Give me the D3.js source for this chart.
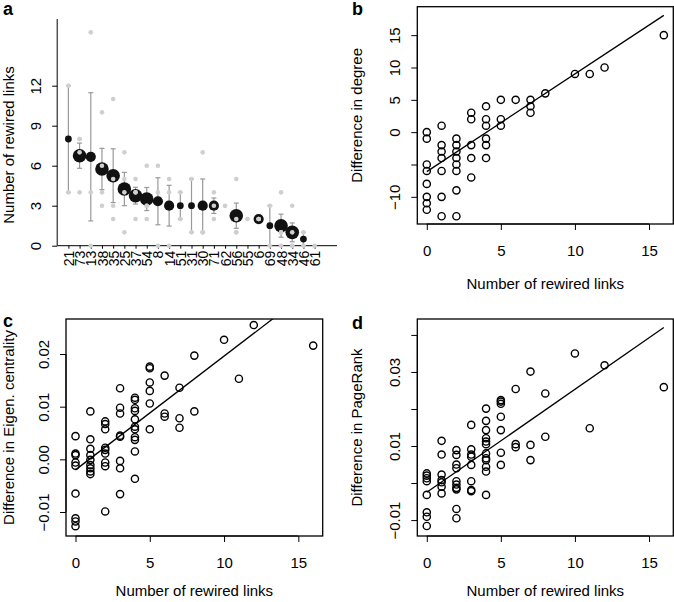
<!DOCTYPE html>
<html>
<head>
<meta charset="utf-8">
<script src="https://cdn.jsdelivr.net/npm/d3@7"></script>
<style>
  body { margin: 0; background: #fff; }
  svg { display: block; font-family: 'Liberation Sans', Arial, Helvetica, sans-serif; }
  .axis path, .axis line { stroke: #000; }
  .axis text { fill: #000; }
</style>
</head>
<body>
<svg id="chart" width="674" height="602"></svg>
<script>
// PANEL A DATA: nodes and the rewired-link counts observed for each
const categories = ['21', '73', '13', '38', '35', '25', '37', '54', '8', '14', '51', '31',
  '30', '71', '62', '56', '55', '6', '69', '48', '34', '46', '61']
const rewiredValues = [
  [12, 4], [8, 8, 7, 4], [16, 4, 0], [10, 6, 4, 3], [11, 5, 3, 2], [7, 5, 4, 1],
  [5, 4, 4, 2], [6, 3, 3, 2], [6, 4, 0], [5, 4, 0], [4, 2], [5, 1], [7, 1, 1],
  [4, 3, 2], [3], [5, 2, 1, 1], [2], [2, 2, 2], [3, 0], [4, 1, 1, 0], [3, 1, 0, 0],
  [1, 0], [0]
]
const rewiredTicks = [0, 3, 6, 9, 12]

// PANELS B-D DATA: [rewired links, difference]
const degreePoints = [
  [0, 0], [0, -1], [0, -5], [0, -6], [0, -8], [0, -10], [0, -11], [0, -12],
  [1, 1], [1, -2], [1, -3], [1, -4], [1, -6], [1, -10], [1, -13],
  [2, -1], [2, -2], [2, -3], [2, -4], [2, -5], [2, -6], [2, -9], [2, -13],
  [3, 3], [3, 2], [3, -2], [3, -4], [3, -7],
  [4, 4], [4, 2], [4, 1], [4, -1], [4, -2], [4, -4],
  [5, 5], [5, 2], [5, 1], [6, 5], [7, 5], [7, 4], [7, 3], [8, 6],
  [10, 9], [11, 9], [12, 10], [16, 15]
]
const degreeFit = [-6.1, 1.51]
const degreeTicks = [-10, -5, 0, 5, 10, 15]
const degreeTickLabels = ['\u221210', '', '0', '5', '10', '15']

const eigenPoints = [
  [0, 0.0044], [0, 0.0011], [0, 0.0008], [0, -0.0006], [0, -0.0012], [0, -0.0065], [0, -0.0112], [0, -0.0118], [0, -0.0127],
  [1, 0.0091], [1, 0.0038], [1, 0.0020], [1, 0.0008], [1, -0.0001], [1, -0.0011], [1, -0.0017], [1, -0.0023], [1, -0.0028],
  [2, 0.0072], [2, 0.0067], [2, 0.0057], [2, 0.0022], [2, 0.0018], [2, 0.0011], [2, -0.0006], [2, -0.0013], [2, -0.0099],
  [3, 0.0135], [3, 0.0098], [3, 0.0087], [3, 0.0045], [3, 0.0043], [3, -0.0003], [3, -0.0017], [3, -0.0066],
  [4, 0.0117], [4, 0.0113], [4, 0.0097], [4, 0.0092], [4, 0.0076], [4, 0.0062], [4, 0.0057], [4, 0.0042], [4, 0.0037], [4, 0.0015], [4, -0.0037],
  [5, 0.0176], [5, 0.0173], [5, 0.0146], [5, 0.0130], [5, 0.0106], [5, 0.0057],
  [6, 0.0159], [6, 0.0087], [6, 0.0081], [7, 0.0136], [7, 0.0078], [7, 0.0060],
  [8, 0.0197], [8, 0.0091], [10, 0.0227], [11, 0.0153], [12, 0.0255], [16, 0.0216]
]
const eigenFit = [-0.0020, 0.00216]
const eigenTicks = [-0.01, 0, 0.01, 0.02]
const eigenTickLabels = ['\u22120.01', '0.00', '0.01', '0.02']

const pagePoints = [
  [0, 0.0026], [0, 0.0020], [0, 0.0013], [0, 0.0005], [0, -0.0032], [0, -0.0079], [0, -0.0091], [0, -0.0116],
  [1, 0.0114], [1, 0.0077], [1, 0.0023], [1, 0.0008], [1, 0.0002], [1, -0.0010], [1, -0.0028],
  [2, 0.0089], [2, 0.0076], [2, 0.0050], [2, 0.0040], [2, 0.0005], [2, -0.0004], [2, -0.0013], [2, -0.0017], [2, -0.0070], [2, -0.0095],
  [3, 0.0157], [3, 0.0091], [3, 0.0077], [3, 0.0071], [3, 0.0049], [3, 0.0005], [3, -0.0019], [3, -0.0022],
  [4, 0.0201], [4, 0.0168], [4, 0.0143], [4, 0.0121], [4, 0.0112], [4, 0.0105], [4, 0.0080], [4, 0.0067], [4, 0.0062], [4, 0.0044], [4, 0.0031], [4, -0.0032],
  [5, 0.0224], [5, 0.0220], [5, 0.0214], [5, 0.0179], [5, 0.0143], [5, 0.0082], [5, 0.0049],
  [6, 0.0254], [6, 0.0105], [6, 0.0097], [7, 0.0301], [7, 0.0103], [7, 0.0062],
  [8, 0.0242], [8, 0.0125], [10, 0.0350], [11, 0.0148], [12, 0.0318], [16, 0.0259]
]
const pageFit = [-0.0025, 0.00278]
const pageTicks = [-0.01, 0, 0.01, 0.02, 0.03, 0.04]
const pageTickLabels = ['\u22120.01', '', '0.01', '', '0.03', '']

const linkTicks = [0, 5, 10, 15]

const svg = d3.select('#chart')

function translation (x, y) {
  return 'translate(' + x + ',' + y + ')'
}

// PANEL A
function drawRewired () {
  let g = svg.append('g')
  let x = d3.scaleLinear().domain([0, 25]).range([57.2, 337])
  let y = d3.scaleLinear().domain([0, 17]).range([245.7, 19])
  let r = d3.scaleLinear().domain([0, 4]).range([0, 6.8])

  let stats = rewiredValues.map(function (v, i) {
    let n = v.length
    let m = d3.mean(v)
    let se = n > 1 ? d3.deviation(v) / Math.sqrt(n) : 0
    return { i: i + 1, n: n, mean: m, lo: m - se, hi: m + se, values: v }
  })

  // y axis
  let yAxis = d3.axisLeft(y).tickValues(rewiredTicks).tickSize(5).tickSizeOuter(0)
  let ya = g.append('g').attr('class', 'axis').attr('transform', translation(57.2, 0)).call(yAxis)
  ya.select('.domain').remove()
  ya.append('line').attr('y1', y(0)).attr('y2', y(17)).attr('stroke', '#000')
  ya.selectAll('text')
    .attr('x', 0).attr('dy', 0)
    .attr('transform', 'translate(-16,0) rotate(-90)')
    .style('text-anchor', 'middle')
    .style('font-size', '15px')

  // x axis
  let xAxis = d3.axisBottom(x)
    .tickValues(stats.map(function (d) { return d.i }))
    .tickFormat(function (d) { return categories[d - 1] })
    .tickSize(3).tickSizeOuter(0)
  let xa = g.append('g').attr('class', 'axis').attr('transform', translation(0, y(0))).call(xAxis)
  xa.select('.domain').remove()
  xa.append('line').attr('x1', x(0)).attr('x2', x(25)).attr('stroke', '#000')
  xa.selectAll('text')
    .attr('x', -5).attr('y', 0).attr('dy', '0.36em')
    .attr('transform', 'rotate(-90)')
    .style('text-anchor', 'end')
    .style('font-size', '14px')

  // error bars
  let eb = g.selectAll('.err').data(stats.filter(function (d) { return d.hi > d.lo })).enter()
    .append('g').attr('class', 'err').attr('stroke', '#999').attr('stroke-width', 1.2)
  eb.append('line')
    .attr('x1', function (d) { return x(d.i) }).attr('x2', function (d) { return x(d.i) })
    .attr('y1', function (d) { return y(d.lo) }).attr('y2', function (d) { return y(d.hi) })
  eb.append('line')
    .attr('x1', function (d) { return x(d.i) - 2.5 }).attr('x2', function (d) { return x(d.i) + 2.5 })
    .attr('y1', function (d) { return y(d.hi) }).attr('y2', function (d) { return y(d.hi) })
  eb.append('line')
    .attr('x1', function (d) { return x(d.i) - 2.5 }).attr('x2', function (d) { return x(d.i) + 2.5 })
    .attr('y1', function (d) { return y(d.lo) }).attr('y2', function (d) { return y(d.lo) })

  // means
  g.selectAll('.mean').data(stats).enter().append('circle')
    .attr('class', 'mean')
    .attr('cx', function (d) { return x(d.i) })
    .attr('cy', function (d) { return y(d.mean) })
    .attr('r', function (d) { return r(d.n) })
    .attr('fill', '#111')

  // individual values
  let pts = []
  stats.forEach(function (d) { d.values.forEach(function (v) { pts.push([d.i, v]) }) })
  g.selectAll('.obs').data(pts).enter().append('circle')
    .attr('class', 'obs')
    .attr('cx', function (d) { return x(d[0]) })
    .attr('cy', function (d) { return y(d[1]) })
    .attr('r', 2.3)
    .attr('fill', '#cfcfcf')

  g.append('text')
    .attr('transform', translation(14, 145) + ' rotate(-90)')
    .attr('text-anchor', 'middle')
    .style('font-size', '15px')
    .text('Number of rewired links')
}

// PANELS B-D
function drawScatter (o) {
  let g = svg.append('g')
  let x = d3.scaleLinear().domain([-0.64, 16.64]).range([o.left, o.right])
  let y = d3.scaleLinear().domain(o.yDomain).range([o.bottom, o.top])
  let clipId = 'clip-' + o.id

  g.append('clipPath').attr('id', clipId).append('rect')
    .attr('x', o.left).attr('y', o.top)
    .attr('width', o.right - o.left).attr('height', o.bottom - o.top)

  let xAxis = d3.axisBottom(x).tickValues(linkTicks).tickSize(6).tickPadding(15).tickSizeOuter(0)
  let xa = g.append('g').attr('class', 'axis').attr('transform', translation(0, o.bottom)).call(xAxis)
  xa.select('.domain').remove()
  xa.append('line').attr('x1', x(linkTicks[0])).attr('x2', x(linkTicks[linkTicks.length - 1])).attr('stroke', '#000')
  xa.selectAll('text').style('font-size', '15px')

  let yAxis = d3.axisLeft(y).tickValues(o.ticks)
    .tickFormat(function (d, i) { return o.tickLabels[i] })
    .tickSize(6).tickSizeOuter(0)
  let ya = g.append('g').attr('class', 'axis').attr('transform', translation(o.left, 0)).call(yAxis)
  ya.select('.domain').remove()
  ya.append('line').attr('y1', y(o.ticks[0])).attr('y2', y(o.ticks[o.ticks.length - 1])).attr('stroke', '#000')
  ya.selectAll('text')
    .attr('x', 0).attr('dy', 0)
    .attr('transform', 'translate(-17,0) rotate(-90)')
    .style('text-anchor', 'middle')
    .style('font-size', '15px')

  g.append('rect')
    .attr('x', o.left).attr('y', o.top)
    .attr('width', o.right - o.left).attr('height', o.bottom - o.top)
    .attr('fill', 'none').attr('stroke', '#000').attr('stroke-width', 1.3)

  g.selectAll('.pt').data(o.points).enter().append('circle')
    .attr('class', 'pt')
    .attr('cx', function (d) { return x(d[0]) })
    .attr('cy', function (d) { return y(d[1]) })
    .attr('r', 3.6)
    .attr('fill', 'none').attr('stroke', '#000').attr('stroke-width', 1.4)

  let xr = d3.extent(o.points, function (d) { return d[0] })
  g.append('line')
    .attr('clip-path', 'url(#' + clipId + ')')
    .attr('x1', x(xr[0])).attr('y1', y(o.fit[0] + o.fit[1] * xr[0]))
    .attr('x2', x(xr[1])).attr('y2', y(o.fit[0] + o.fit[1] * xr[1]))
    .attr('stroke', '#000').attr('stroke-width', 1.3)

  g.append('text')
    .attr('x', (o.left + o.right) / 2).attr('y', o.xTitleY)
    .attr('text-anchor', 'middle').style('font-size', '15px')
    .text('Number of rewired links')

  g.append('text')
    .attr('transform', translation(o.yTitleX, (o.top + o.bottom) / 2) + ' rotate(-90)')
    .attr('text-anchor', 'middle').style('font-size', '15px')
    .text(o.yTitle)
}

drawRewired()

drawScatter({ id: 'b', left: 417.3, right: 673.3, top: 6.7, bottom: 224, yDomain: [-14.2, 19.4],
  points: degreePoints, fit: degreeFit, ticks: degreeTicks, tickLabels: degreeTickLabels,
  xTitleY: 289, yTitleX: 362, yTitle: 'Difference in degree' })

drawScatter({ id: 'c', left: 66, right: 322.7, top: 319, bottom: 536, yDomain: [-0.01456, 0.02665],
  points: eigenPoints, fit: eigenFit, ticks: eigenTicks, tickLabels: eigenTickLabels,
  xTitleY: 596, yTitleX: 14, yTitle: 'Difference in Eigen. centrality' })

drawScatter({ id: 'd', left: 417.3, right: 673.3, top: 319, bottom: 536, yDomain: [-0.0143, 0.0443],
  points: pagePoints, fit: pageFit, ticks: pageTicks, tickLabels: pageTickLabels,
  xTitleY: 596, yTitleX: 362, yTitle: 'Difference in PageRank' })

// PANEL LETTERS
const panelLetters = [['a', 3, 15], ['b', 352, 15], ['c', 3, 327], ['d', 352, 329]]
svg.selectAll('.letter').data(panelLetters).enter().append('text')
  .attr('class', 'letter')
  .attr('x', function (d) { return d[1] }).attr('y', function (d) { return d[2] })
  .style('font-size', '18px').style('font-weight', 'bold')
  .text(function (d) { return d[0] })
</script>
</body>
</html>
